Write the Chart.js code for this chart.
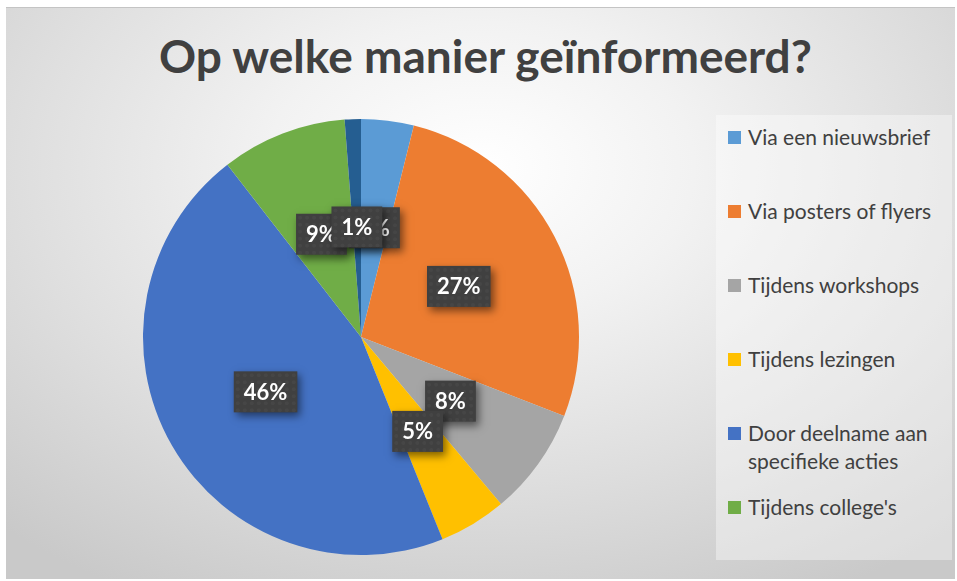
<!DOCTYPE html>
<html>
<head>
<meta charset="utf-8">
<script src="https://cdn.jsdelivr.net/npm/chart.js@4/dist/chart.umd.min.js"></script>
<style>
  html, body { margin: 0; padding: 0; background: #ffffff; }
  #wrap { position: relative; width: 957px; height: 581px; overflow: hidden; background: #ffffff; }
  #panel { position: absolute; left: 6px; top: 7px; width: 949px; height: 572px;
    background: radial-gradient(ellipse 75% 85% at 50% 28%, #ffffff 0%, #f2f2f2 30%, #dedede 65%, #c9c9c9 100%);
    border-top: 1px solid #c4c4c4; box-sizing: border-box; }
  #title { position: absolute; left: 6px; width: 949px; top: 27px; text-align: center;
    font-family: Lato, "Open Sans", sans-serif; font-weight: bold; font-size: 46px; color: #404040; line-height: 58px; white-space: nowrap; padding-left: 10px; box-sizing: border-box; }
  #legend { position: absolute; left: 716px; top: 115px; width: 236px; height: 445px; background: rgba(255,255,255,0.38); }
  .item { position: absolute; left: 12px; font-family: Lato, "Open Sans", sans-serif; font-size: 21px; color: #404040; line-height: 28px; }
  .sw { position: absolute; left: 0; top: 8px; width: 13px; height: 13px; }
  .txt { position: absolute; left: 20px; top: 0; width: 215px; white-space: nowrap; }
  canvas { position: absolute; left: 0; top: 0; }
</style>
</head>
<body>
<div id="wrap">
  <div id="panel"></div>
  <div id="title">Op welke manier geïnformeerd?</div>
  <div id="legend"></div>
  <canvas id="c" width="957" height="581"></canvas>
</div>
<script>
const categories = [
  "Via een nieuwsbrief",
  "Via posters of flyers",
  "Tijdens workshops",
  "Tijdens lezingen",
  "Door deelname aan specifieke acties",
  "Tijdens college's",
  "Overig"
];
const percentages = [3.9, 27, 8, 5, 45.6, 9.3, 1.2];
const colors = ["#5B9BD5", "#ED7D31", "#A5A5A5", "#FFC000", "#4472C4", "#70AD47", "#255E91"];
const legendCount = 6;

// HTML legend (the reference shows the first six entries)
const legendEl = document.getElementById('legend');
const legendLines = [["Via een nieuwsbrief"], ["Via posters of flyers"], ["Tijdens workshops"], ["Tijdens lezingen"], ["Door deelname aan", "specifieke acties"], ["Tijdens college's"]];
for (let i = 0; i < legendCount; i++) {
  const it = document.createElement('div');
  it.className = 'item';
  it.style.top = (22 - 14 + 74 * i) + 'px';
  const sw = document.createElement('div');
  sw.className = 'sw';
  sw.style.background = colors[i];
  const tx = document.createElement('div');
  tx.className = 'txt';
  tx.innerHTML = legendLines[i].join('<br>');
  it.appendChild(sw); it.appendChild(tx);
  legendEl.appendChild(it);
}

const labelPlugin = {
  id: 'boxLabels',
  afterDatasetsDraw(chart) {
    const ctx = chart.ctx;
    const meta = chart.getDatasetMeta(0);
    const data = chart.data.datasets[0].data;
    const total = data.reduce((a, b) => a + b, 0);
    ctx.save();
    ctx.font = 'bold 22px Lato, "Open Sans", sans-serif';
    ctx.textAlign = 'center';
    ctx.textBaseline = 'middle';
    meta.data.forEach((arc, i) => {
      const p = arc.getProps(['x', 'y', 'startAngle', 'endAngle', 'outerRadius'], true);
      const mid = (p.startAngle + p.endAngle) / 2;
      const r = p.outerRadius * 0.505;
      const x = p.x + Math.cos(mid) * r;
      const y = p.y + Math.sin(mid) * r;
      const txt = Math.round(data[i] / total * 100) + '%';
      const w = ctx.measureText(txt).width + 20;
      const h = 41;
      ctx.save();
      ctx.shadowColor = 'rgba(0,0,0,0.5)';
      ctx.shadowBlur = 8;
      ctx.shadowOffsetX = 3;
      ctx.shadowOffsetY = 4;
      ctx.fillStyle = '#404040';
      ctx.fillRect(x - w / 2, y - h / 2, w, h);
      ctx.restore();
      // subtle dotted texture
      ctx.fillStyle = 'rgba(255,255,255,0.035)';
      for (let yy = y - h / 2 + 4; yy < y + h / 2 - 1; yy += 7) {
        for (let xx = x - w / 2 + 4; xx < x + w / 2 - 1; xx += 7) {
          ctx.beginPath(); ctx.arc(xx, yy, 2, 0, Math.PI * 2); ctx.fill();
        }
      }
      ctx.fillStyle = '#ffffff';
      ctx.fillText(txt, x, y + 1);
    });
    ctx.restore();
  }
};

new Chart(document.getElementById('c'), {
  type: 'pie',
  data: {
    labels: categories,
    datasets: [{ data: percentages, backgroundColor: colors, borderWidth: 0 }]
  },
  options: {
    responsive: false,
    animation: false,
    devicePixelRatio: 1,
    layout: { padding: { left: 143, top: 119, right: 378, bottom: 26 } },
    plugins: { legend: { display: false }, tooltip: { enabled: false }, title: { display: false } }
  },
  plugins: [labelPlugin]
});
</script>
</body>
</html>
